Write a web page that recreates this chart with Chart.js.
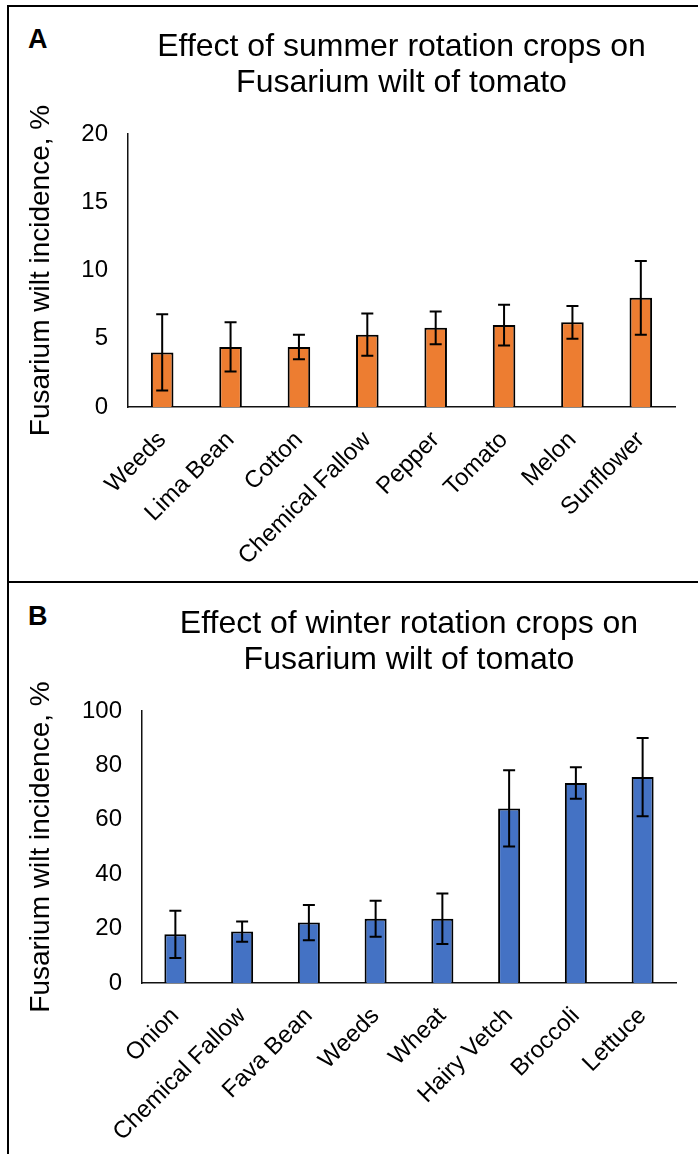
<!DOCTYPE html>
<html>
<head>
<meta charset="utf-8">
<script src="https://cdn.jsdelivr.net/npm/chart.js@4.4.1/dist/chart.umd.min.js"></script>
<style>
  html, body { margin: 0; padding: 0; background: #fff; overflow: hidden; }
  body { width: 698px; height: 1154px; position: relative; font-family: "Liberation Sans", Arial, sans-serif; }
  .frame { position: absolute; left: 7px; top: 5px; width: 760px; height: 1200px; border-left: 2px solid #000; border-top: 2px solid #000; }
  .divider { position: absolute; left: 7px; top: 581px; width: 760px; height: 2px; background: #000; }
  .letter { position: absolute; left: 28px; font-weight: bold; font-size: 27px; line-height: 27px; color: #000; }
  .panel { position: absolute; left: 0; width: 698px; height: 577px; }
</style>
</head>
<body>
<div class="frame"></div>
<div class="divider"></div>
<div class="letter" style="top:26px">A</div>
<div class="letter" style="top:603px">B</div>
<div class="panel" style="top:0"><canvas id="summer-plot"></canvas></div>
<div class="panel" style="top:577px"><canvas id="winter-plot"></canvas></div>

<script>
let summer_labels = ['Weeds', 'Lima Bean', 'Cotton', 'Chemical Fallow', 'Pepper', 'Tomato', 'Melon', 'Sunflower']
let summer_values = [4.0, 4.4, 4.4, 5.3, 5.8, 6.0, 6.2, 8.0]
let summer_errors = [2.8, 1.8, 0.9, 1.55, 1.2, 1.5, 1.2, 2.7]

let winter_labels = ['Onion', 'Chemical Fallow', 'Fava Bean', 'Weeds', 'Wheat', 'Hairy Vetch', 'Broccoli', 'Lettuce']
let winter_values = [17.9, 18.9, 22.2, 23.6, 23.6, 64.2, 73.5, 75.7]
let winter_errors = [8.7, 3.75, 6.5, 6.6, 9.3, 14.0, 5.8, 14.4]

const FONT = '"Liberation Sans", Arial, sans-serif'

// draws the +/- error whiskers on top of the bars
const error_bars_plugin = {
    id: 'errorBars',
    afterDatasetsDraw(chart, args, opts) {
        const ctx = chart.ctx
        const y = chart.scales.y
        const meta = chart.getDatasetMeta(0)
        const vals = chart.data.datasets[0].data
        ctx.save()
        ctx.strokeStyle = '#000'
        ctx.lineWidth = 2
        opts.errors.forEach((e, i) => {
            const px = meta.data[i].x
            const top = y.getPixelForValue(vals[i] + e)
            const bot = y.getPixelForValue(vals[i] - e)
            ctx.beginPath()
            ctx.moveTo(px, top); ctx.lineTo(px, bot)
            ctx.moveTo(px - 6, top); ctx.lineTo(px + 6, top)
            ctx.moveTo(px - 6, bot); ctx.lineTo(px + 6, bot)
            ctx.stroke()
        })
        ctx.restore()
    }
}

function make_chart(canvas_id, title, labels, values, errors, color, y_max, y_step, y_width, pad_right, x_height) {
    return new Chart(document.getElementById(canvas_id), {
        type: 'bar',
        data: {
            labels: labels,
            datasets: [{
                data: values,
                backgroundColor: color,
                borderColor: '#000',
                borderWidth: 2,
                barPercentage: 0.33,
                categoryPercentage: 1.0
            }]
        },
        options: {
            responsive: true,
            maintainAspectRatio: false,
            animation: false,
            layout: {padding: {left: 10, right: pad_right, top: 0, bottom: 0}},
            plugins: {
                legend: {display: false},
                tooltip: {enabled: false},
                title: {
                    display: true,
                    fullSize: false,
                    text: title,
                    color: '#000',
                    font: {family: FONT, size: 32, weight: 'normal', lineHeight: 1.125},
                    padding: {top: 29, bottom: 33}
                },
                errorBars: {errors: errors}
            },
            scales: {
                x: {
                    grid: {display: false, drawTicks: false},
                    border: {display: true, color: '#111', width: 1.5},
                    ticks: {
                        color: '#000', font: {family: FONT, size: 24},
                        minRotation: 45, maxRotation: 45, autoSkip: false, padding: 19
                    },
                    afterFit: (s) => { s.height = x_height }
                },
                y: {
                    min: 0, max: y_max,
                    grid: {display: false, drawTicks: false},
                    border: {display: true, color: '#111', width: 1.5},
                    ticks: {stepSize: y_step, color: '#000', font: {family: FONT, size: 24}, padding: 20},
                    title: {
                        display: true,
                        text: 'Fusarium wilt incidence, %',
                        color: '#000',
                        font: {family: FONT, size: 28},
                        padding: {top: 14, bottom: 0}
                    },
                    afterFit: (s) => { s.width = y_width }
                }
            }
        },
        plugins: [error_bars_plugin]
    })
}

document.addEventListener('DOMContentLoaded', () => {
    make_chart('summer-plot', ['Effect of summer rotation crops on', 'Fusarium wilt of tomato'],
        summer_labels, summer_values, summer_errors, '#ED7D31', 20, 5, 118, 23, 170)
    make_chart('winter-plot', ['Effect of winter rotation crops on', 'Fusarium wilt of tomato'],
        winter_labels, winter_values, winter_errors, '#4472C4', 100, 20, 132, 22, 171)
})
</script>
</body>
</html>
